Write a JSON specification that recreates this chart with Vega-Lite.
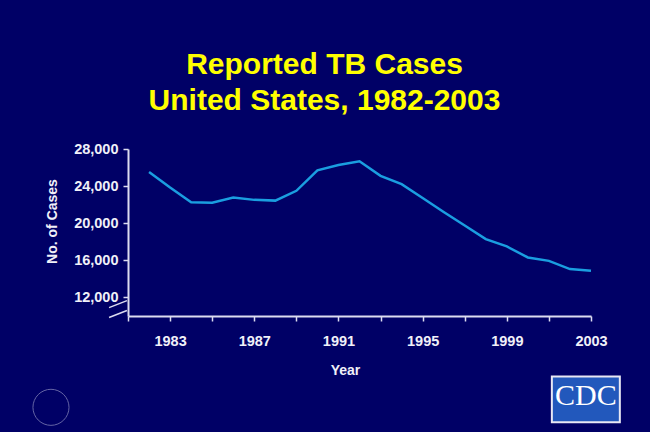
{
  "$schema": "https://vega.github.io/schema/vega-lite/v6.json",
  "width": 463,
  "height": 167,
  "autosize": {"type": "none"},
  "padding": {"left": 128, "top": 149, "right": 59, "bottom": 116},
  "background": "#000066",
  "title": {
    "text": ["Reported TB Cases", "United States, 1982-2003"],
    "color": "#ffff00",
    "font": "Liberation Sans",
    "fontSize": 30,
    "fontWeight": "bold",
    "lineHeight": 36,
    "anchor": "middle",
    "frame": "group",
    "dx": -35,
    "offset": 25
  },
  "config": {
    "view": {"stroke": null},
    "axis": {
      "grid": false,
      "domainColor": "#dcdcf0",
      "domainWidth": 2,
      "tickColor": "#dcdcf0",
      "tickWidth": 1.5,
      "tickSize": 5,
      "labelColor": "#f0f0f8",
      "labelFont": "Liberation Sans",
      "labelFontWeight": "bold",
      "labelFontSize": 14.5,
      "titleColor": "#f0f0f8",
      "titleFont": "Liberation Sans",
      "titleFontWeight": "bold",
      "titleFontSize": 14,
      "labelOverlap": false,
      "labelFlush": false
    }
  },
  "layer": [
    {
      "data": {
        "values": [
          {"year": 1982, "cases": 25520},
          {"year": 1983, "cases": 23846},
          {"year": 1984, "cases": 22255},
          {"year": 1985, "cases": 22201},
          {"year": 1986, "cases": 22768},
          {"year": 1987, "cases": 22517},
          {"year": 1988, "cases": 22436},
          {"year": 1989, "cases": 23495},
          {"year": 1990, "cases": 25701},
          {"year": 1991, "cases": 26283},
          {"year": 1992, "cases": 26673},
          {"year": 1993, "cases": 25107},
          {"year": 1994, "cases": 24206},
          {"year": 1995, "cases": 22726},
          {"year": 1996, "cases": 21210},
          {"year": 1997, "cases": 19751},
          {"year": 1998, "cases": 18287},
          {"year": 1999, "cases": 17500},
          {"year": 2000, "cases": 16309},
          {"year": 2001, "cases": 15945},
          {"year": 2002, "cases": 15055},
          {"year": 2003, "cases": 14871}
        ]
      },
      "mark": {"type": "line", "color": "#1a9ee0", "strokeWidth": 2.5},
      "encoding": {
        "x": {
          "field": "year",
          "type": "quantitative",
          "scale": {"domain": [1981, 2003], "nice": false, "zero": false},
          "axis": {
            "title": "Year",
            "values": [1981,1982,1983,1984,1985,1986,1987,1988,1989,1990,1991,1992,1993,1994,1995,1996,1997,1998,1999,2000,2001,2002,2003],
            "labelExpr": "(datum.value - 1983) % 4 === 0 ? format(datum.value, 'd') : ''",
            "labelPadding": 13,
            "titlePadding": 16,
            "titleX": 217
          }
        },
        "y": {
          "field": "cases",
          "type": "quantitative",
          "scale": {"domain": [10000, 28000], "nice": false, "zero": false},
          "axis": {
            "title": "No. of Cases",
            "values": [12000,14000,16000,18000,20000,22000,24000,26000,28000],
            "labelExpr": "datum.value % 4000 === 0 ? format(datum.value, ',') : ''",
            "labelPadding": 5,
            "titlePadding": 14,
            "titleY": 72
          }
        }
      }
    },
    {
      "data": {"values": [{"a": 1}]},
      "mark": {"type": "rule", "color": "#dcdcf0", "strokeWidth": 1.5},
      "encoding": {
        "x": {"datum": 1980.1, "type": "quantitative"},
        "x2": {"datum": 1980.95},
        "y": {"datum": 10908, "type": "quantitative"},
        "y2": {"datum": 11660}
      }
    },
    {
      "data": {"values": [{"a": 1}]},
      "mark": {"type": "rule", "color": "#dcdcf0", "strokeWidth": 1.5},
      "encoding": {
        "x": {"datum": 1980.1, "type": "quantitative"},
        "x2": {"datum": 1980.95},
        "y": {"datum": 9833, "type": "quantitative"},
        "y2": {"datum": 10585}
      }
    },
    {
      "data": {"values": [{"a": 1}]},
      "mark": {"type": "rect", "color": "#2258bc", "stroke": "#e8e8f4", "strokeWidth": 2},
      "encoding": {
        "x": {"datum": 2001.14, "type": "quantitative"},
        "x2": {"datum": 2004.37},
        "y": {"datum": 3490, "type": "quantitative"},
        "y2": {"datum": -1455}
      }
    },
    {
      "data": {"values": [{"t": "CDC"}]},
      "mark": {"type": "text", "color": "#ffffff", "font": "Liberation Serif", "fontSize": 30, "baseline": "middle", "align": "center"},
      "encoding": {
        "text": {"field": "t"},
        "x": {"datum": 2002.76, "type": "quantitative"},
        "y": {"datum": 1340, "type": "quantitative"}
      }
    },
    {
      "data": {"values": [{"a": 1}]},
      "mark": {"type": "point", "shape": "circle", "filled": false, "color": "#9090c0", "strokeWidth": 1, "size": 1300, "opacity": 0.7},
      "encoding": {
        "x": {"datum": 1977.34, "type": "quantitative"},
        "y": {"datum": 157, "type": "quantitative"}
      }
    }
  ]
}
